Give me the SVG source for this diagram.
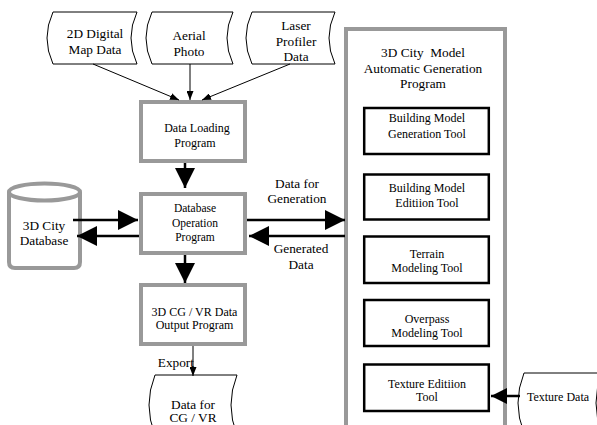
<svg xmlns="http://www.w3.org/2000/svg" width="597" height="425" viewBox="0 0 597 425" font-family="'Liberation Serif', 'DejaVu Serif', serif">
<defs>
<style>
text{font-family:'Liberation Serif','DejaVu Serif',serif;fill:#000;text-anchor:middle}
.f13{font-size:13.3px}
.f12{font-size:12px}
.f115{font-size:11.5px}
.doc{fill:#fff;stroke:#000;stroke-width:1}
.gbox{fill:#fff;stroke:#999;stroke-width:4}
.tool{fill:#fff;stroke:#000;stroke-width:2.5}
.thin{stroke:#000;stroke-width:1;fill:none}
.thick{stroke:#000;stroke-width:2.5;fill:none}
</style>
<marker id="big" markerUnits="userSpaceOnUse" markerWidth="20" markerHeight="20" refX="20" refY="10" orient="auto" viewBox="0 0 20 20">
<path d="M0,0 L20,10 L0,20 Z" fill="#000"/>
</marker>
<marker id="mid" markerUnits="userSpaceOnUse" markerWidth="16" markerHeight="16" refX="16" refY="8" orient="auto" viewBox="0 0 16 16">
<path d="M0,0 L16,8 L0,16 Z" fill="#000"/>
</marker>
<marker id="small" markerUnits="userSpaceOnUse" markerWidth="9" markerHeight="7" refX="9" refY="3.5" orient="auto" viewBox="0 0 9 7">
<path d="M0,0 L9,3.5 L0,7 Z" fill="#000"/>
</marker>
</defs>

<g id="map-data">
<path class="doc" d="M53,12 H137 Q125,38 137,64 H53 Q41,38 53,12 Z"/>
<text class="f13" x="95" y="37.5">2D Digital</text>
<text class="f13" x="95" y="53.5">Map Data</text>
</g>
<g id="aerial-photo">
<path class="doc" d="M152,12 H233 Q221,38 233,64 H152 Q140,38 152,12 Z"/>
<text class="f13" x="189" y="39.5">Aerial</text>
<text class="f13" x="189" y="56">Photo</text>
</g>
<g id="laser-data">
<path class="doc" d="M252,12 H335 Q323,38 335,64 H252 Q240,38 252,12 Z"/>
<text class="f13" x="296" y="29.5">Laser</text>
<text class="f13" x="296" y="45.5">Profiler</text>
<text class="f13" x="296" y="60.5">Data</text>
</g>

<g id="data-loading">
<rect class="gbox" x="141" y="102" width="104" height="59"/>
<text class="f12" x="197" y="132">Data Loading</text>
<text class="f12" x="195" y="147">Program</text>
</g>
<g id="db-operation">
<rect class="gbox" x="141" y="194" width="104" height="59"/>
<text class="f115" x="195" y="212">Database</text>
<text class="f115" x="195" y="227">Operation</text>
<text class="f115" x="195" y="241">Program</text>
</g>
<g id="cg-output">
<rect class="gbox" x="141" y="285" width="104" height="59"/>
<text class="f12" x="194.5" y="316">3D CG / VR Data</text>
<text class="f12" x="194.5" y="329">Output Program</text>
</g>
<g id="city-database">
<path d="M9,192 A35.5,8.5 0 0,1 80,192 V262 Q80,268 74,268 H15 Q9,268 9,262 Z" fill="#fff" stroke="#999" stroke-width="4"/>
<path d="M9,192 A35.5,8.5 0 0,0 80,192" fill="none" stroke="#999" stroke-width="4"/>
<text class="f13" x="44" y="229.5">3D City</text>
<text class="f13" x="44" y="244.5">Database</text>
</g>
<g id="cg-data">
<path class="doc" d="M155,375 H237 Q225,405 237,435 H155 Q143,405 155,375 Z"/>
<text class="f13" x="193" y="408.5">Data for</text>
<text class="f13" x="193" y="422">CG / VR</text>
</g>

<g id="generation-program">
<rect class="gbox" x="346" y="29" width="159" height="420"/>
<text class="f13" x="423" y="56.5" style="white-space:pre">3D City  Model</text>
<text class="f13" x="423" y="72.5">Automatic Generation</text>
<text class="f13" x="423" y="87.5">Program</text>
</g>
<g id="tool-building-gen">
<rect class="tool" x="364.2" y="108" width="124.6" height="46"/>
<text class="f12" x="427" y="121.5">Building Model</text>
<text class="f12" x="427" y="137.5">Generation Tool</text>
</g>
<g id="tool-building-edit">
<rect class="tool" x="364.2" y="174.5" width="124.6" height="45"/>
<text class="f12" x="427" y="191.5">Building Model</text>
<text class="f12" x="427" y="206.5">Editiion Tool</text>
</g>
<g id="tool-terrain">
<rect class="tool" x="364.2" y="236.5" width="124.6" height="46.5"/>
<text class="f12" x="427" y="257.5">Terrain</text>
<text class="f12" x="427" y="271.5">Modeling Tool</text>
</g>
<g id="tool-overpass">
<rect class="tool" x="364.2" y="300" width="124.6" height="46"/>
<text class="f12" x="427" y="322.5">Overpass</text>
<text class="f12" x="427" y="336.5">Modeling Tool</text>
</g>
<g id="tool-texture">
<rect class="tool" x="364.2" y="364.5" width="124.6" height="46.5"/>
<text class="f12" x="427" y="387.5">Texture Editiion</text>
<text class="f12" x="427" y="400.5">Tool</text>
</g>
<g id="texture-data">
<path class="doc" d="M524,373 H602 Q590,403 602,433 H524 Q512,403 524,373 Z"/>
<text class="f12" x="558" y="401">Texture Data</text>
</g>

<g id="connectors">
<line class="thin" x1="93" y1="64" x2="179" y2="100" marker-end="url(#small)"/>
<line class="thin" x1="190" y1="64" x2="190" y2="100" marker-end="url(#small)"/>
<line class="thin" x1="290" y1="64" x2="202" y2="100" marker-end="url(#small)"/>
<line class="thick" x1="185" y1="163" x2="185" y2="188" marker-end="url(#big)"/>
<line class="thick" x1="185" y1="255" x2="185" y2="283" marker-end="url(#big)"/>
<line class="thick" x1="73" y1="220" x2="138" y2="220" marker-end="url(#big)"/>
<line class="thick" x1="139" y1="236" x2="77" y2="236" marker-end="url(#big)"/>
<line class="thick" x1="247" y1="220" x2="345" y2="220" marker-end="url(#big)"/>
<line class="thick" x1="345" y1="236" x2="249" y2="236" marker-end="url(#big)"/>
<line class="thick" x1="520" y1="396" x2="491" y2="396" marker-end="url(#mid)"/>
<line class="thin" x1="193" y1="346" x2="193" y2="376" marker-end="url(#small)"/>
<text class="f13" x="297" y="187.5">Data for</text>
<text class="f13" x="297" y="202.5">Generation</text>
<text class="f13" x="301" y="252.5">Generated</text>
<text class="f13" x="301" y="268.5">Data</text>
<text class="f13" x="194" y="366.5" style="text-anchor:end">Export</text>
</g>
</svg>
